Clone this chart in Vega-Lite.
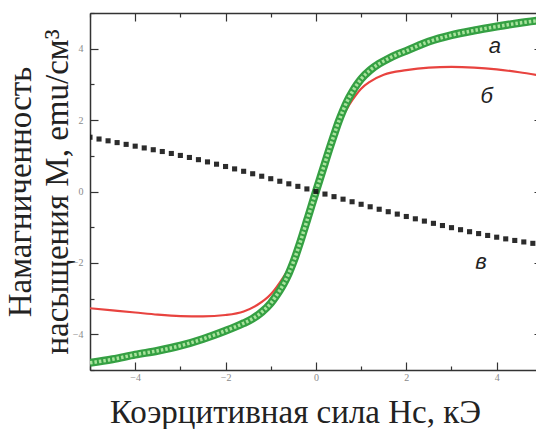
{
  "$schema": "https://vega.github.io/schema/vega-lite/v6.json",
  "autosize": "none",
  "width": 446,
  "height": 357,
  "padding": {"left": 90, "top": 13, "right": 0, "bottom": 59},
  "background": "white",
  "config": {
    "view": {"stroke": null},
    "axis": {
      "grid": false,
      "domainColor": "#333",
      "domainWidth": 1.5,
      "tickColor": "#333",
      "tickWidth": 1.2,
      "labelFont": "Liberation Serif",
      "labelFontSize": 10,
      "labelColor": "#8a8a8a",
      "titleFont": "Liberation Serif",
      "titleFontWeight": "normal",
      "titleColor": "#222"
    }
  },
  "datasets": {
    "a": [
      {"x": -5.0, "y": -4.8}, {"x": -4.5, "y": -4.7}, {"x": -4.0, "y": -4.57}, {"x": -3.5, "y": -4.46},
      {"x": -3.0, "y": -4.32}, {"x": -2.5, "y": -4.13}, {"x": -2.0, "y": -3.9}, {"x": -1.8, "y": -3.8},
      {"x": -1.6, "y": -3.69}, {"x": -1.4, "y": -3.56}, {"x": -1.2, "y": -3.38}, {"x": -1.0, "y": -3.13},
      {"x": -0.9, "y": -2.96}, {"x": -0.8, "y": -2.77}, {"x": -0.7, "y": -2.55}, {"x": -0.6, "y": -2.29},
      {"x": -0.5, "y": -1.98}, {"x": -0.4, "y": -1.62}, {"x": -0.3, "y": -1.23}, {"x": -0.2, "y": -0.82},
      {"x": -0.1, "y": -0.41}, {"x": 0.0, "y": 0.0}, {"x": 0.1, "y": 0.4}, {"x": 0.2, "y": 0.8},
      {"x": 0.3, "y": 1.2}, {"x": 0.4, "y": 1.58}, {"x": 0.5, "y": 1.95}, {"x": 0.6, "y": 2.27},
      {"x": 0.7, "y": 2.55}, {"x": 0.8, "y": 2.78}, {"x": 0.9, "y": 2.98}, {"x": 1.0, "y": 3.15},
      {"x": 1.2, "y": 3.4}, {"x": 1.4, "y": 3.58}, {"x": 1.6, "y": 3.72}, {"x": 1.8, "y": 3.84},
      {"x": 2.0, "y": 3.94}, {"x": 2.5, "y": 4.2}, {"x": 3.0, "y": 4.38}, {"x": 3.5, "y": 4.51},
      {"x": 4.0, "y": 4.62}, {"x": 4.5, "y": 4.72}, {"x": 5.0, "y": 4.8}
    ],
    "b": [
      {"x": -5.0, "y": -3.27}, {"x": -4.5, "y": -3.33}, {"x": -4.0, "y": -3.39}, {"x": -3.5, "y": -3.45},
      {"x": -3.0, "y": -3.49}, {"x": -2.5, "y": -3.5}, {"x": -2.0, "y": -3.46}, {"x": -1.6, "y": -3.36},
      {"x": -1.3, "y": -3.18}, {"x": -1.0, "y": -2.88}, {"x": -0.8, "y": -2.55}, {"x": -0.6, "y": -2.15},
      {"x": -0.5, "y": -1.9}, {"x": -0.4, "y": -1.58}, {"x": -0.3, "y": -1.22}, {"x": -0.2, "y": -0.82},
      {"x": -0.1, "y": -0.41}, {"x": 0.0, "y": 0.0}, {"x": 0.1, "y": 0.4}, {"x": 0.2, "y": 0.8},
      {"x": 0.3, "y": 1.19}, {"x": 0.4, "y": 1.55}, {"x": 0.5, "y": 1.86}, {"x": 0.6, "y": 2.12},
      {"x": 0.7, "y": 2.35}, {"x": 0.8, "y": 2.55}, {"x": 1.0, "y": 2.88}, {"x": 1.2, "y": 3.08},
      {"x": 1.5, "y": 3.27}, {"x": 2.0, "y": 3.4}, {"x": 2.5, "y": 3.47}, {"x": 3.0, "y": 3.49},
      {"x": 3.5, "y": 3.47}, {"x": 4.0, "y": 3.42}, {"x": 4.5, "y": 3.34}, {"x": 5.0, "y": 3.24}
    ],
    "c": [
      {"x": -5.0, "y": 1.52}, {"x": -4.8, "y": 1.47}, {"x": -4.6, "y": 1.42}, {"x": -4.4, "y": 1.37},
      {"x": -4.2, "y": 1.32}, {"x": -4.0, "y": 1.27}, {"x": -3.8, "y": 1.22}, {"x": -3.6, "y": 1.17},
      {"x": -3.4, "y": 1.12}, {"x": -3.2, "y": 1.065}, {"x": -3.0, "y": 1.01}, {"x": -2.8, "y": 0.953},
      {"x": -2.6, "y": 0.892}, {"x": -2.4, "y": 0.829}, {"x": -2.2, "y": 0.765}, {"x": -2.0, "y": 0.7},
      {"x": -1.8, "y": 0.633}, {"x": -1.6, "y": 0.566}, {"x": -1.4, "y": 0.497}, {"x": -1.2, "y": 0.428},
      {"x": -1.0, "y": 0.358}, {"x": -0.8, "y": 0.287}, {"x": -0.6, "y": 0.215}, {"x": -0.4, "y": 0.144},
      {"x": -0.2, "y": 0.072}, {"x": 0.0, "y": 0.0}, {"x": 0.2, "y": -0.072}, {"x": 0.4, "y": -0.144},
      {"x": 0.6, "y": -0.215}, {"x": 0.8, "y": -0.287}, {"x": 1.0, "y": -0.358}, {"x": 1.2, "y": -0.428},
      {"x": 1.4, "y": -0.497}, {"x": 1.6, "y": -0.566}, {"x": 1.8, "y": -0.633}, {"x": 2.0, "y": -0.7},
      {"x": 2.2, "y": -0.765}, {"x": 2.4, "y": -0.829}, {"x": 2.6, "y": -0.892}, {"x": 2.8, "y": -0.953},
      {"x": 3.0, "y": -1.013}, {"x": 3.2, "y": -1.07}, {"x": 3.4, "y": -1.126}, {"x": 3.6, "y": -1.179},
      {"x": 3.8, "y": -1.231}, {"x": 4.0, "y": -1.28}, {"x": 4.2, "y": -1.327}, {"x": 4.4, "y": -1.371},
      {"x": 4.6, "y": -1.413}, {"x": 4.8, "y": -1.452}, {"x": 5.0, "y": -1.49}
    ],
    "lbl": [
      {"x": 3.96, "y": 4.08, "t": "а"},
      {"x": 3.78, "y": 2.68, "t": "б"},
      {"x": 3.65, "y": -1.98, "t": "в"}
    ]
  },
  "resolve": {"axis": {"x": "independent", "y": "independent"}},
  "layer": [
    {
      "data": {"name": "b"},
      "mark": {"type": "line", "color": "#e8433f", "strokeWidth": 2.2, "interpolate": "monotone", "clip": true},
      "encoding": {
        "x": {"field": "x", "type": "quantitative", "scale": {"domain": [-5, 4.87], "nice": false, "zero": false},
          "axis": {"orient": "bottom", "values": [-4, -2, 0, 2, 4], "tickSize": -8, "labelPadding": 10,
            "title": "Коэрцитивная сила Hc, кЭ", "titleFontSize": 33, "titleX": 205, "titleY": 52,
            "titleBaseline": "alphabetic", "titleAlign": "center"}},
        "y": {"field": "y", "type": "quantitative", "scale": {"domain": [-5, 5], "nice": false, "zero": false},
          "axis": {"orient": "left", "values": [-4, -2, 0, 2, 4], "tickSize": -8, "labelPadding": 15,
            "title": ["Намагниченность", "насыщения M, emu/cм³"], "titleFontSize": 33, "titleLineHeight": 37,
            "titlePadding": -2}}
      }
    },
    {
      "data": {"name": "a"},
      "mark": {"type": "line", "color": "#35a043", "strokeWidth": 8, "interpolate": "monotone", "clip": true},
      "encoding": {
        "x": {"field": "x", "type": "quantitative",
          "axis": {"orient": "top", "values": [-4, -2, 0, 2, 4], "tickSize": -8, "labels": false, "title": null}},
        "y": {"field": "y", "type": "quantitative",
          "axis": {"orient": "right", "values": [-4, -2, 0, 2, 4], "tickSize": -8, "labels": false, "title": null, "offset": 6, "domain": false}}
      }
    },
    {
      "data": {"name": "a"},
      "mark": {"type": "line", "color": "#a8e39c", "strokeWidth": 3.5, "interpolate": "monotone", "clip": true, "strokeDash": [2.5, 2]},
      "encoding": {
        "x": {"field": "x", "type": "quantitative",
          "axis": {"orient": "bottom", "values": [-5, -3, -1, 1, 3, 5], "tickSize": -4, "labels": false, "title": null, "domain": false}},
        "y": {"field": "y", "type": "quantitative",
          "axis": {"orient": "left", "values": [-5, -3, -1, 1, 3, 5], "tickSize": -4, "labels": false, "title": null, "domain": false}}
      }
    },
    {
      "data": {"name": "c"},
      "mark": {"type": "point", "shape": "square", "filled": true, "size": 26, "color": "#151515", "opacity": 0.9, "clip": true},
      "encoding": {
        "x": {"field": "x", "type": "quantitative",
          "axis": {"orient": "top", "values": [-5, -3, -1, 1, 3, 5], "tickSize": -4, "labels": false, "title": null, "domain": false}},
        "y": {"field": "y", "type": "quantitative",
          "axis": {"orient": "right", "values": [-5, -3, -1, 1, 3, 5], "tickSize": -4, "labels": false, "title": null, "offset": 6, "domain": false}}
      }
    },
    {
      "data": {"name": "lbl"},
      "mark": {"type": "text", "font": "Liberation Sans", "fontStyle": "italic", "fontSize": 22, "color": "#222", "align": "center", "baseline": "middle"},
      "encoding": {
        "x": {"field": "x", "type": "quantitative", "axis": null},
        "y": {"field": "y", "type": "quantitative", "axis": null},
        "text": {"field": "t"}
      }
    }
  ]
}
